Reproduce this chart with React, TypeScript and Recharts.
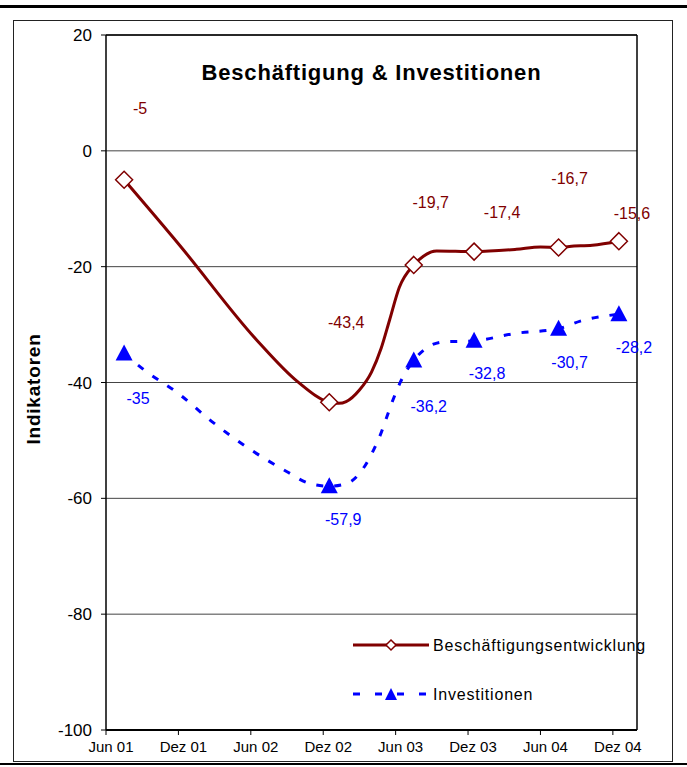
import React from 'react';
import { LineChart, Line, XAxis, YAxis, CartesianGrid, ReferenceLine } from 'recharts';

const FONT = '"Liberation Sans", Arial, sans-serif';

const tickLabels = ['Jun 01', 'Dez 01', 'Jun 02', 'Dez 02', 'Jun 03', 'Dez 03', 'Jun 04', 'Dez 04'];
const tickMonths = [0, 6, 12, 18, 24, 30, 36, 42];
const yTicks = [20, 0, -20, -40, -60, -80, -100];

// labelled points (months after Jun 01)
const keyMonths = [1.5, 18.5, 25.5, 30.5, 37.5, 42.5];
const empKey = [-5, -43.4, -19.7, -17.4, -16.7, -15.6];
const invKey = [-35, -57.9, -36.2, -32.8, -30.7, -28.2];

// unlabelled points
const empCurveMonths = [6.1, 12.5, 15.9, 19.3, 19.9, 21, 22, 22.8, 23.5, 24.3, 26.3, 27.4, 34, 36, 38.4, 40.3];
const empCurveValues = [-16.3, -32.7, -39.9, -43.6, -43.3, -41.3, -38.2, -34.1, -29.2, -23.6, -18.2, -17.3, -17.0, -16.6, -16.5, -16.3];
const invCurveMonths = [3.2, 6, 8.75, 11.7, 15, 16.8, 20, 21, 22.6, 23.8, 24.4, 27.9, 34, 39.3];
const invCurveValues = [-37.9, -41.9, -46.7, -51.2, -55.4, -57.4, -57.4, -55.7, -49.7, -42.9, -39.9, -33.0, -31.5, -29.4];

// label offsets (px) relative to the markers
const empLabelDx = [16, 17, 17, 28, 11, 13];
const empLabelDy = [-71, -80, -62, -39, -69, -28];
const invLabelDx = [14, 14, 15, 13, 11, 15];
const invLabelDy = [45, 33, 46, 33, 34, 33];

const seriesNames = ['Beschäftigungsentwicklung', 'Investitionen'];

type Pt = { m: number; v: number; li: number };

function build(km: number[], kv: number[], cm: number[], cv: number[]): Pt[] {
  const pts: Pt[] = [];
  km.forEach((m, i) => pts.push({ m, v: kv[i], li: i }));
  cm.forEach((m, i) => pts.push({ m, v: cv[i], li: -1 }));
  return pts.sort((a, b) => a.m - b.m);
}

const empData = build(keyMonths, empKey, empCurveMonths, empCurveValues);
const invData = build(keyMonths, invKey, invCurveMonths, invCurveValues);

const BROWN = '#800000';
const BLUE = '#0000FF';

const fmt = (v: number) => String(v).replace('.', ',');

const Diamond = (props: any) => {
  const { cx, cy, payload } = props;
  if (!payload || payload.li < 0 || cx == null) return <g key={`d${props.index}`} />;
  const r = 8.5;
  return (
    <path
      key={`d${props.index}`}
      d={`M${cx},${cy - r}L${cx + r},${cy}L${cx},${cy + r}L${cx - r},${cy}Z`}
      fill="#fff"
      stroke={BROWN}
      strokeWidth={1.5}
    />
  );
};

const Triangle = (props: any) => {
  const { cx, cy, payload } = props;
  if (!payload || payload.li < 0 || cx == null) return <g key={`t${props.index}`} />;
  const w = 8.5;
  return (
    <path
      key={`t${props.index}`}
      d={`M${cx},${cy - 9}L${cx + w},${cy + 7}L${cx - w},${cy + 7}Z`}
      fill={BLUE}
      stroke="none"
    />
  );
};

const makeLabel = (data: Pt[], dxs: number[], dys: number[], color: string) => (props: any) => {
  const { x, y, index } = props;
  const p = data[index];
  if (!p || p.li < 0) return null;
  return (
    <text
      key={`l${color}${index}`}
      x={x + dxs[p.li]}
      y={y + dys[p.li]}
      textAnchor="middle"
      dominantBaseline="central"
      fontSize={16}
      fontFamily={FONT}
      fill={color}
    >
      {fmt(p.v)}
    </text>
  );
};

const XTick = (props: any) => {
  const { x, y, payload } = props;
  const idx = tickMonths.indexOf(payload.value);
  return (
    <text x={x + 5} y={y} dy={15} textAnchor="middle" fontSize={15} fontFamily={FONT} fill="#000">
      {tickLabels[idx]}
    </text>
  );
};

const YTick = (props: any) => {
  const { x, y, payload } = props;
  return (
    <text x={x} y={y} dy="0.36em" textAnchor="end" fontSize={17} fontFamily={FONT} fill="#000">
      {payload.value}
    </text>
  );
};

const LegendBox = () => (
  <svg width={330} height={90} style={{ position: 'absolute', left: 350, top: 630, overflow: 'visible' }}>
    <line x1={3} y1={15} x2={79} y2={15} stroke={BROWN} strokeWidth={3} />
    <path d="M41,10L46,15L41,20L36,15Z" fill="#fff" stroke={BROWN} strokeWidth={1.5} />
    <text x={83} y={15} dominantBaseline="central" fontSize={16} letterSpacing={0.8} fontFamily={FONT} fill="#000">
      {seriesNames[0]}
    </text>
    <line x1={3} y1={64} x2={79} y2={64} stroke={BLUE} strokeWidth={3} strokeDasharray="7 15" />
    <path d="M41,58L47,70L35,70Z" fill={BLUE} />
    <text x={83} y={64} dominantBaseline="central" fontSize={16} letterSpacing={0.8} fontFamily={FONT} fill="#000">
      {seriesNames[1]}
    </text>
  </svg>
);

export default function App() {
  return (
    <div style={{ position: 'absolute', left: 0, top: 0, width: 687, height: 767, background: '#fff', fontFamily: FONT }}>
      <div style={{ position: 'absolute', left: 0, top: 5, width: 687, height: 3, background: '#000' }} />
      <div style={{ position: 'absolute', left: 13, top: 20, width: 660, height: 742, border: '1px solid #222', boxSizing: 'border-box' }} />
      <div style={{ position: 'absolute', left: 0, top: 763, width: 687, height: 2, background: '#000' }} />
      <div style={{ position: 'absolute', left: 0, top: 0 }}>
        <LineChart width={687} height={767} margin={{ top: 35, right: 50, bottom: 7, left: 0 }}>
          <CartesianGrid horizontal={true} vertical={false} stroke="#444" strokeWidth={1} />
          <XAxis
            type="number"
            dataKey="m"
            domain={[0, 44]}
            ticks={tickMonths}
            interval={0}
            height={30}
            tickSize={5}
            tickMargin={2}
            axisLine={{ stroke: '#000', strokeWidth: 2 }}
            tickLine={{ stroke: '#000' }}
            tick={<XTick />}
            allowDuplicatedCategory={false}
          />
          <YAxis
            type="number"
            domain={[-100, 20]}
            ticks={yTicks}
            interval={0}
            width={106}
            tickSize={5}
            tickMargin={9}
            axisLine={{ stroke: '#000', strokeWidth: 1.5 }}
            tickLine={{ stroke: '#000' }}
            tick={<YTick />}
            label={() => (
              <text
                x={33}
                y={389}
                transform="rotate(-90 33 389)"
                textAnchor="middle"
                dominantBaseline="central"
                fontSize={19}
                letterSpacing={0.8}
                fontWeight="bold"
                fontFamily={FONT}
                fill="#000"
              >
                Indikatoren
              </text>
            )}
          />
          <ReferenceLine y={20} stroke="#000" strokeWidth={1.5} />
          <ReferenceLine x={44} stroke="#000" strokeWidth={1.5} />
          <Line
            data={empData}
            dataKey="v"
            type="monotone"
            stroke={BROWN}
            strokeWidth={3}
            dot={Diamond}
            activeDot={false}
            label={makeLabel(empData, empLabelDx, empLabelDy, BROWN)}
            isAnimationActive={false}
            name={seriesNames[0]}
          />
          <Line
            data={invData}
            dataKey="v"
            type="monotone"
            stroke={BLUE}
            strokeWidth={3}
            strokeDasharray="7 11"
            dot={Triangle}
            activeDot={false}
            label={makeLabel(invData, invLabelDx, invLabelDy, BLUE)}
            isAnimationActive={false}
            name={seriesNames[1]}
          />
        </LineChart>
      </div>
      <div
        style={{
          position: 'absolute',
          left: 0,
          width: 743,
          top: 60,
          textAlign: 'center',
          fontSize: 22,
          fontWeight: 'bold',
          letterSpacing: 0.8,
          lineHeight: '26px',
          color: '#000',
        }}
      >
        Beschäftigung &amp; Investitionen
      </div>
      <LegendBox />
    </div>
  );
}
